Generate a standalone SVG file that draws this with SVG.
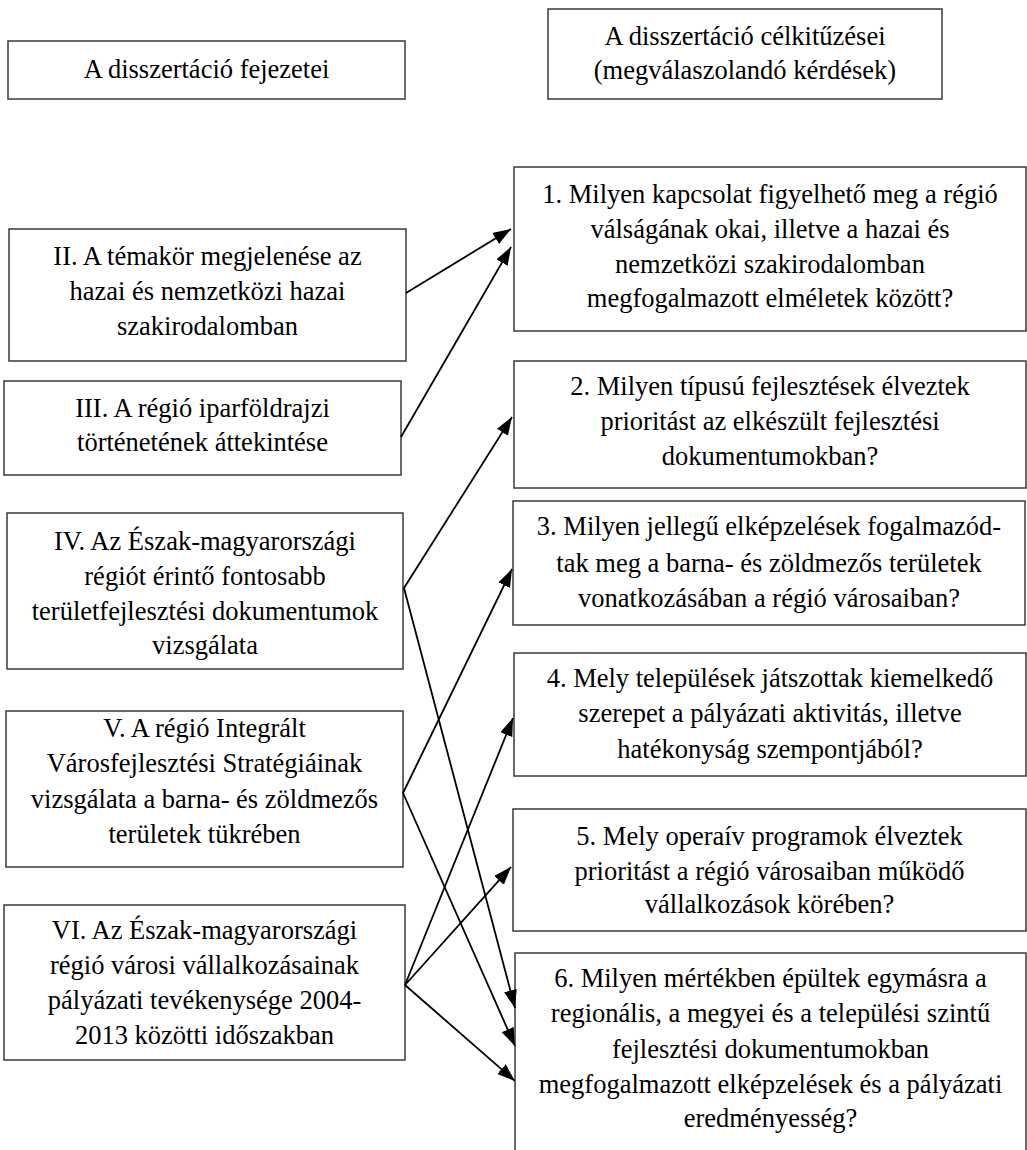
<svg xmlns="http://www.w3.org/2000/svg" width="1027" height="1150" viewBox="0 0 1027 1150">
<style>
.box{fill:#fff;stroke:#3a3a3a;stroke-width:1.5}
.t{font-family:"Liberation Serif","Times New Roman",serif;font-size:26.5px;fill:#000;text-anchor:middle}
.c{stroke:#000;stroke-width:1.8;fill:none;marker-end:url(#ah)}
</style>
<defs>
<marker id="ah" markerUnits="userSpaceOnUse" markerWidth="20" markerHeight="14" refX="18" refY="6.5" orient="auto">
<path d="M0,0 L18,6.5 L0,13 z" fill="#000"/>
</marker>
</defs>
<rect width="1027" height="1150" fill="#fff"/>

<g id="hdr-left"><rect class="box" x="8" y="41" width="397" height="58"/>
<text class="t" x="206.5" y="78">A disszertáció fejezetei</text></g>

<g id="hdr-right"><rect class="box" x="548" y="9" width="394" height="90"/>
<text class="t" x="745" y="45">A disszertáció célkitűzései</text>
<text class="t" x="745" y="79">(megválaszolandó kérdések)</text></g>

<g id="ch2"><rect class="box" x="9" y="229" width="397" height="132"/>
<text class="t" x="207.5" y="265">II. A témakör megjelenése az</text>
<text class="t" x="207.5" y="300">hazai és nemzetközi hazai</text>
<text class="t" x="207.5" y="335">szakirodalomban</text></g>

<g id="ch3"><rect class="box" x="4" y="381" width="397" height="94"/>
<text class="t" x="202.5" y="417">III. A régió iparföldrajzi</text>
<text class="t" x="202.5" y="451">történetének áttekintése</text></g>

<g id="ch4"><rect class="box" x="7" y="513" width="396" height="156"/>
<text class="t" x="205" y="550">IV. Az Észak-magyarországi</text>
<text class="t" x="205" y="585">régiót érintő fontosabb</text>
<text class="t" x="205" y="620">területfejlesztési dokumentumok</text>
<text class="t" x="205" y="654">vizsgálata</text></g>

<g id="ch5"><rect class="box" x="6" y="711" width="397" height="156"/>
<text class="t" x="204.5" y="737">V. A régió Integrált</text>
<text class="t" x="204.5" y="772">Városfejlesztési Stratégiáinak</text>
<text class="t" x="204.5" y="808">vizsgálata a barna- és zöldmezős</text>
<text class="t" x="204.5" y="843">területek tükrében</text></g>

<g id="ch6"><rect class="box" x="4" y="905" width="401" height="155"/>
<text class="t" x="204.5" y="939">VI. Az Észak-magyarországi</text>
<text class="t" x="204.5" y="974">régió városi vállalkozásainak</text>
<text class="t" x="204.5" y="1009">pályázati tevékenysége 2004-</text>
<text class="t" x="204.5" y="1044">2013 közötti időszakban</text></g>

<g id="q1"><rect class="box" x="514" y="167" width="512" height="164"/>
<text class="t" x="770" y="203">1. Milyen kapcsolat figyelhető meg a régió</text>
<text class="t" x="770" y="238">válságának okai, illetve a hazai és</text>
<text class="t" x="770" y="273">nemzetközi szakirodalomban</text>
<text class="t" x="770" y="307">megfogalmazott elméletek között?</text></g>

<g id="q2"><rect class="box" x="514" y="361" width="512" height="127"/>
<text class="t" x="770" y="395">2. Milyen típusú fejlesztések élveztek</text>
<text class="t" x="770" y="430">prioritást az elkészült fejlesztési</text>
<text class="t" x="770" y="465">dokumentumokban?</text></g>

<g id="q3"><rect class="box" x="513" y="501" width="512" height="124"/>
<text class="t" x="769" y="535">3. Milyen jellegű elképzelések fogalmazód-</text>
<text class="t" x="769" y="572">tak meg a barna- és zöldmezős területek</text>
<text class="t" x="769" y="607">vonatkozásában a régió városaiban?</text></g>

<g id="q4"><rect class="box" x="514" y="653" width="512" height="123"/>
<text class="t" x="770" y="687">4. Mely települések játszottak kiemelkedő</text>
<text class="t" x="770" y="722">szerepet a pályázati aktivitás, illetve</text>
<text class="t" x="770" y="758">hatékonyság szempontjából?</text></g>

<g id="q5"><rect class="box" x="513" y="809" width="513" height="122"/>
<text class="t" x="769.5" y="845">5. Mely operaív programok élveztek</text>
<text class="t" x="769.5" y="880">prioritást a régió városaiban működő</text>
<text class="t" x="769.5" y="913">vállalkozások körében?</text></g>

<g id="q6"><rect class="box" x="515" y="953" width="511" height="210"/>
<text class="t" x="770.5" y="987">6. Milyen mértékben épültek egymásra a</text>
<text class="t" x="770.5" y="1022">regionális, a megyei és a települési szintű</text>
<text class="t" x="770.5" y="1058">fejlesztési dokumentumokban</text>
<text class="t" x="770.5" y="1093">megfogalmazott elképzelések és a pályázati</text>
<text class="t" x="770.5" y="1127">eredményesség?</text></g>

<g id="connectors">
<line class="c" x1="406" y1="293" x2="511" y2="229"/>
<line class="c" x1="401" y1="437" x2="511" y2="247"/>
<line class="c" x1="404" y1="588" x2="512" y2="417"/>
<line class="c" x1="404" y1="588" x2="515" y2="1008"/>
<line class="c" x1="403" y1="793" x2="512" y2="569"/>
<line class="c" x1="403" y1="793" x2="515" y2="1046"/>
<line class="c" x1="405" y1="985" x2="513" y2="718"/>
<line class="c" x1="405" y1="985" x2="511" y2="867"/>
<line class="c" x1="405" y1="985" x2="515" y2="1081"/>
</g>
</svg>
